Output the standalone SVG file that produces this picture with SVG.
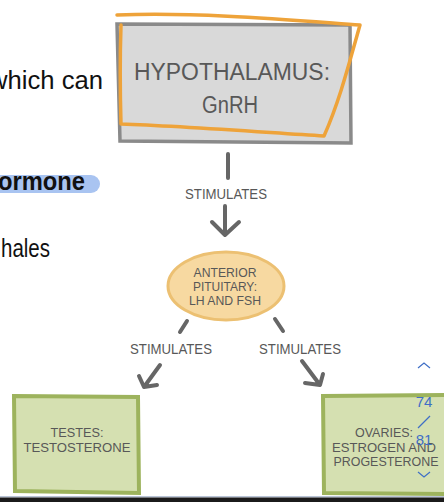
<svg xmlns="http://www.w3.org/2000/svg" width="444" height="502" viewBox="0 0 444 502">
<style>
.lbl{font-family:"Liberation Sans","DejaVu Sans",sans-serif;fill:#585858;text-anchor:middle}
.side{font-family:"Liberation Sans","Inter",sans-serif;fill:#111;font-size:25px}
.conn{stroke:#666;stroke-width:4;stroke-linecap:round;fill:none;stroke-linejoin:round}
.green{fill:#d5e0b1;stroke:#9db35d;stroke-width:4}
.nav{font-family:"Liberation Sans",sans-serif;fill:#3f6fc6;font-size:15px;text-anchor:middle}
</style>
<rect width="444" height="502" fill="#fff"/>
<g id="side-text">
<text class="side" x="-11" y="89" textLength="114" lengthAdjust="spacingAndGlyphs">which can</text>
<rect x="-10" y="175" width="110" height="18" rx="9" fill="#a9c4f1"/>
<text class="side" x="-2" y="190" font-weight="bold" font-size="23" textLength="87" lengthAdjust="spacingAndGlyphs">ormone</text>
<text class="side" x="1" y="257" font-size="24" textLength="49" lengthAdjust="spacingAndGlyphs">hales</text>
</g>
<g id="hypothalamus">
<path d="M117,24 L350,25 L351,143 L120,141 Z" fill="#d9d9d9" stroke="#8a8a8a" stroke-width="3.5"/>
<path d="M117,15 C200,12 290,20 360,25 C350,60 340,100 324,136 C260,132 180,126 121,124 C120,90 120,55 121,25" fill="none" stroke="#eea33a" stroke-width="3.5" stroke-linecap="round" stroke-linejoin="round"/>
<text class="lbl" x="232" y="80" font-size="23.5" textLength="196" lengthAdjust="spacingAndGlyphs">HYPOTHALAMUS:</text>
<text class="lbl" x="230" y="113" font-size="23.5" textLength="56" lengthAdjust="spacingAndGlyphs">GnRH</text>
</g>
<g id="connectors">
<line class="conn" x1="228" y1="154" x2="228" y2="178"/>
<text class="lbl" x="226" y="199" font-size="14.5" textLength="82" lengthAdjust="spacingAndGlyphs">STIMULATES</text>
<path class="conn" d="M225,206 L225,235 M212,222 L225,235 L239,222"/>
<line class="conn" x1="187" y1="321" x2="180" y2="332"/>
<line class="conn" x1="275" y1="319" x2="283" y2="331"/>
<text class="lbl" x="171" y="354" font-size="14.5" textLength="82" lengthAdjust="spacingAndGlyphs">STIMULATES</text>
<text class="lbl" x="300" y="354" font-size="14.5" textLength="82" lengthAdjust="spacingAndGlyphs">STIMULATES</text>
<path class="conn" d="M160,365 L144,387 M139,376 L144,387 L157,385"/>
<path class="conn" d="M302,361 L320,385 M305,383 L320,385 L323,374"/>
</g>
<g id="anterior-pituitary">
<ellipse cx="226" cy="286" rx="58" ry="34" fill="#f7d9a1" stroke="#ecc072" stroke-width="3"/>
<text class="lbl" x="225" y="277" font-size="13.5" textLength="63" lengthAdjust="spacingAndGlyphs">ANTERIOR</text>
<text class="lbl" x="225" y="291" font-size="13.5" textLength="64" lengthAdjust="spacingAndGlyphs">PITUITARY:</text>
<text class="lbl" x="225" y="305" font-size="13.5" textLength="72" lengthAdjust="spacingAndGlyphs">LH AND FSH</text>
</g>
<g id="testes">
<path class="green" d="M14,396 L138,397 L139,493 L15,491 Z"/>
<text class="lbl" x="77" y="437" font-size="13.5" textLength="53" lengthAdjust="spacingAndGlyphs">TESTES:</text>
<text class="lbl" x="77" y="451.5" font-size="13.5" textLength="107" lengthAdjust="spacingAndGlyphs">TESTOSTERONE</text>
</g>
<g id="ovaries">
<path class="green" d="M323,396 L450,395 L450,494 L324,493 Z"/>
<text class="lbl" x="384" y="437" font-size="13.5" textLength="58" lengthAdjust="spacingAndGlyphs">OVARIES:</text>
<text class="lbl" x="384" y="451.5" font-size="13.5" textLength="104" lengthAdjust="spacingAndGlyphs">ESTROGEN AND</text>
<text class="lbl" x="386" y="466" font-size="13.5" textLength="105" lengthAdjust="spacingAndGlyphs">PROGESTERONE</text>
</g>
<g id="page-nav">
<path d="M418,368 L424,363 L430,368" fill="none" stroke="#3f6fc6" stroke-width="1.2"/>
<text class="nav" x="424" y="407">74</text>
<line x1="418" y1="428" x2="430" y2="416" stroke="#3f6fc6" stroke-width="1.2"/>
<text class="nav" x="424" y="445">81</text>
<path d="M418,472 L424,477 L430,472" fill="none" stroke="#3f6fc6" stroke-width="1.2"/>
</g>
<rect x="0" y="496" width="444" height="1.5" fill="#b9c4d6"/>
<rect x="0" y="497.5" width="444" height="4.5" fill="#1b1b1b"/>
</svg>
